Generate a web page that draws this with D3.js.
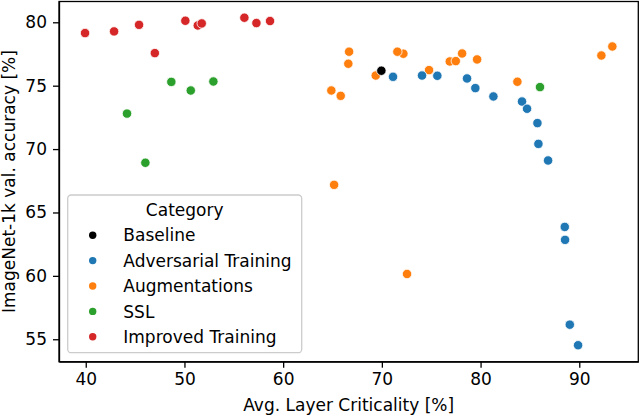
<!DOCTYPE html>
<html>
<head>
<meta charset="utf-8">
<style>
    body { margin: 0; background: #fff; }
    svg text { font-family: "DejaVu Sans", sans-serif; fill: #000; }
    .axis path, .axis line { stroke: #000; stroke-width: 1.3; }
    .axis text { font-size: 17px; }
</style>
</head>
<body>
<div id="chart"></div>
<script src="https://cdnjs.cloudflare.com/ajax/libs/d3/7.8.5/d3.min.js"></script>
<script>
    // data
    var categories = ['Baseline', 'Adversarial Training', 'Augmentations', 'SSL', 'Improved Training'];
    var colors = ['#000000', '#1f77b4', '#ff7f0e', '#2ca02c', '#d62728'];

    var improvedX = [39.93, 42.87, 45.4, 47.0, 50.09, 51.35, 51.75, 56.07, 57.29, 58.67];
    var improvedY = [79.15, 79.28, 79.8, 77.57, 80.12, 79.75, 79.91, 80.36, 79.94, 80.1];

    var sslX = [44.18, 46.04, 48.67, 50.64, 52.93, 86.02];
    var sslY = [72.8, 68.92, 75.3, 74.62, 75.33, 74.89];

    var augX = [64.88, 65.16, 65.83, 66.6, 66.68, 69.38, 72.18, 71.57, 72.55, 74.78, 76.88, 77.49, 78.13, 79.65, 83.73, 92.24, 93.35];
    var augY = [74.62, 67.18, 74.2, 76.73, 77.68, 75.8, 77.52, 77.68, 60.15, 76.23, 76.91, 76.94, 77.54, 77.07, 75.31, 77.38, 78.09];

    var advX = [71.13, 74.07, 75.62, 78.63, 79.47, 81.3, 84.2, 84.71, 85.76, 85.86, 86.84, 88.53, 88.56, 89.04, 89.88];
    var advY = [75.7, 75.8, 75.78, 75.57, 74.81, 74.15, 73.75, 73.18, 72.05, 70.41, 69.1, 63.86, 62.84, 56.15, 54.53];

    var baseX = [69.95];
    var baseY = [76.18];

    var xTicks = [40, 50, 60, 70, 80, 90];
    var yTicks = [55, 60, 65, 70, 75, 80];

    var width = 640, height = 416;
    var margin = {top: 1.5, right: 1.7, bottom: 54.3, left: 59};

    var svg = d3.select('#chart').append('svg')
        .attr('width', width)
        .attr('height', height);

    var x = d3.scaleLinear().domain([37.29, 95.98]).range([margin.left, width - margin.right]);
    var y = d3.scaleLinear().domain([53.23, 81.64]).range([height - margin.bottom, margin.top]);

    //points, one group per category, baseline drawn last
    var groups = [
        {cat: 4, xs: improvedX, ys: improvedY},
        {cat: 3, xs: sslX, ys: sslY},
        {cat: 2, xs: augX, ys: augY},
        {cat: 1, xs: advX, ys: advY},
        {cat: 0, xs: baseX, ys: baseY}
    ];

    var gPoints = svg.append('g').attr('class', 'points');
    groups.forEach(function (g) {
        gPoints.append('g')
            .selectAll('circle')
            .data(d3.range(g.xs.length))
            .enter()
            .append('circle')
            .attr('cx', function (i) { return x(g.xs[i]); })
            .attr('cy', function (i) { return y(g.ys[i]); })
            .attr('r', 4.7)
            .attr('fill', colors[g.cat])
            .attr('stroke', '#fff')
            .attr('stroke-width', 0.8);
    });

    //axes
    var xAxis = svg.append('g')
        .attr('class', 'axis')
        .attr('transform', 'translate(0,' + (height - margin.bottom) + ')')
        .call(d3.axisBottom(x).tickValues(xTicks).tickSize(6).tickPadding(5).tickSizeOuter(0));
    var yAxis = svg.append('g')
        .attr('class', 'axis')
        .attr('transform', 'translate(' + margin.left + ',0)')
        .call(d3.axisLeft(y).tickValues(yTicks).tickSize(6).tickPadding(6).tickSizeOuter(0));

    // full frame (top and right spines)
    svg.append('rect')
        .attr('x', margin.left)
        .attr('y', margin.top)
        .attr('width', width - margin.left - margin.right)
        .attr('height', height - margin.top - margin.bottom)
        .attr('fill', 'none')
        .attr('stroke', '#000')
        .attr('stroke-width', 1.3);

    svg.append('text')
        .attr('x', (margin.left + width - margin.right) / 2)
        .attr('y', 411)
        .attr('text-anchor', 'middle')
        .style('font-size', '17px')
        .text('Avg. Layer Criticality [%]');

    svg.append('text')
        .attr('transform', 'translate(14.5,' + ((margin.top + height - margin.bottom) / 2) + ') rotate(-90)')
        .attr('text-anchor', 'middle')
        .style('font-size', '17px')
        .text('ImageNet-1k val. accuracy [%]');

    //legend
    var gLegend = svg.append('g').attr('class', 'legend');
    gLegend.append('rect')
        .attr('x', 67.7).attr('y', 195)
        .attr('width', 234).attr('height', 157.7)
        .attr('rx', 3.5).attr('ry', 3.5)
        .attr('fill', 'rgba(255,255,255,0.8)')
        .attr('stroke', '#cccccc')
        .attr('stroke-width', 1.3);
    gLegend.append('text')
        .attr('x', 184.7).attr('y', 215.7)
        .attr('text-anchor', 'middle')
        .style('font-size', '17px')
        .text('Category');

    var rows = gLegend.selectAll('g.row')
        .data(categories)
        .enter()
        .append('g')
        .attr('class', 'row')
        .attr('transform', function (d, i) { return 'translate(0,' + (235.2 + i * 25.4) + ')'; });
    rows.append('circle')
        .attr('cx', 92.7).attr('cy', 0)
        .attr('r', 3.7)
        .attr('fill', function (d, i) { return colors[i]; });
    rows.append('text')
        .attr('x', 123.3).attr('y', 6.2)
        .style('font-size', '17px')
        .text(function (d) { return d; });
</script>
</body>
</html>
